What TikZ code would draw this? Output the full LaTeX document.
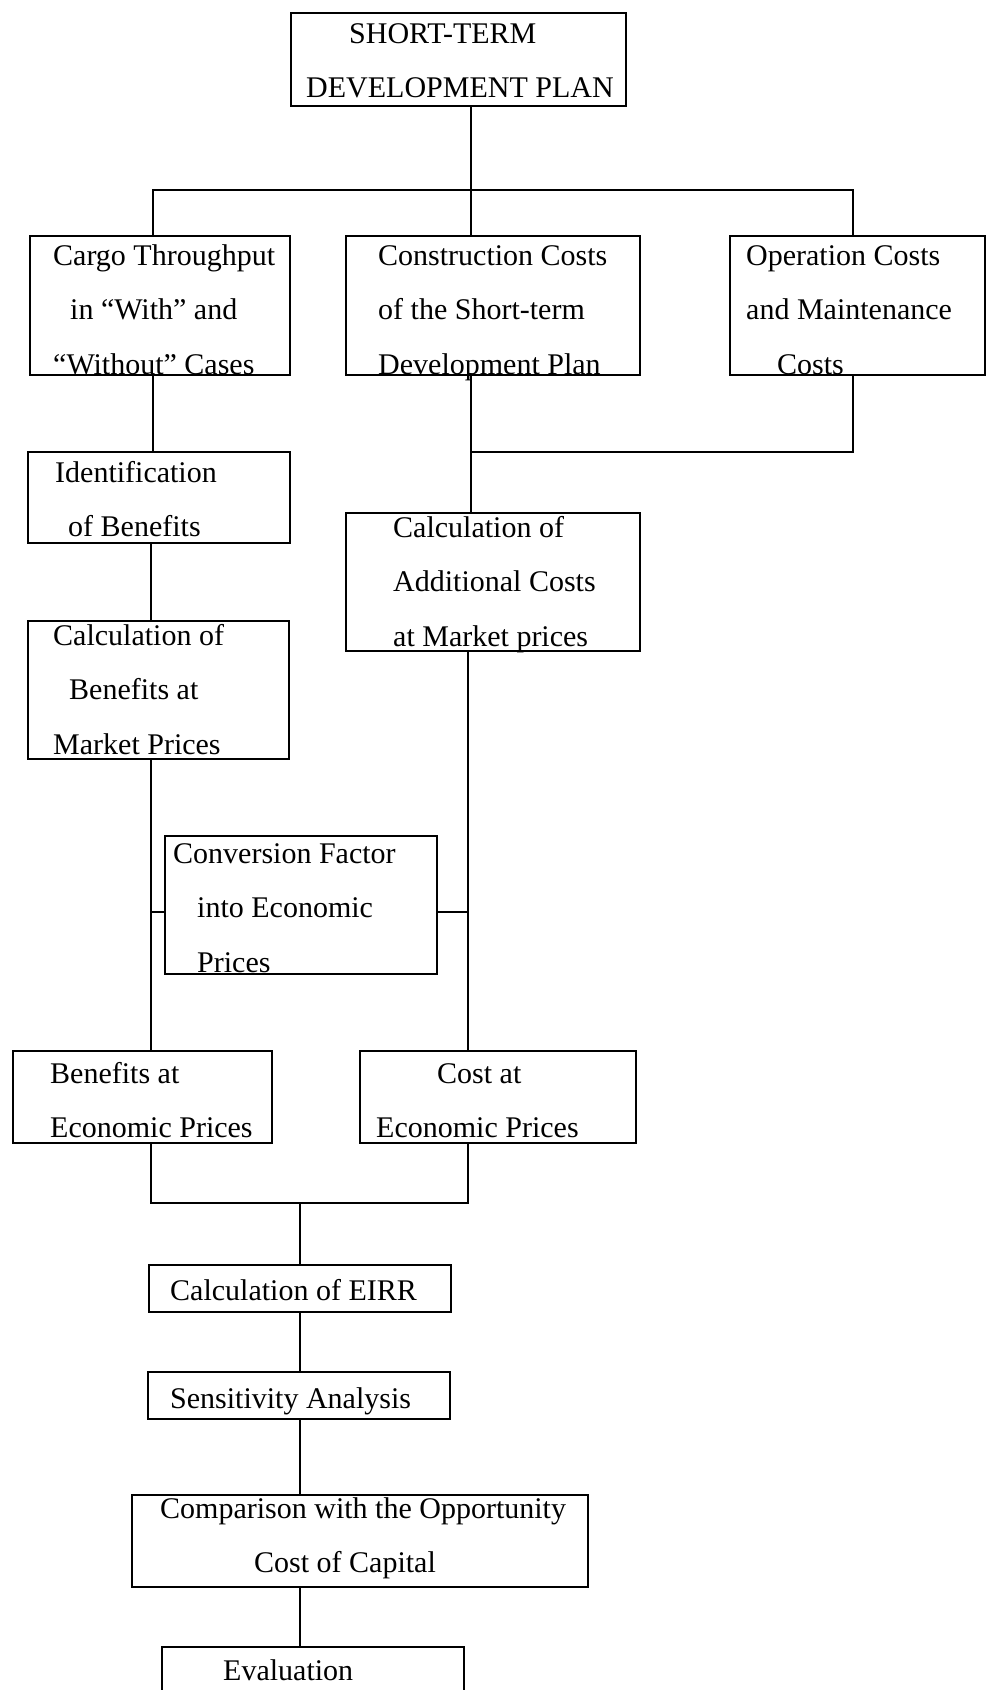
\documentclass[tikz,border=0pt]{standalone}
\usepackage{fontspec}
\setmainfont{Liberation Serif}
\usetikzlibrary{calc}
\newcommand{\fs}{\rule{0pt}{21pt}}
\tikzset{
  box/.style={draw, line width=1.5pt, inner sep=0pt, minimum width=#1},
  box/.default=100pt,
  txt/.style={font=\fontsize{30}{54.5}\selectfont, inner sep=0pt, anchor=north west, align=left},
  ln/.style={line width=1.5pt}
}
\begin{document}
\begin{tikzpicture}[x=1pt,y=-1pt]
\useasboundingbox (0,0) rectangle (987,1690);
\clip (0,0) rectangle (987,1690);
\fill[white] (0,0) rectangle (987,1690);
% boxes
\node[box=335pt, minimum height=93pt] (top) at (458.5,59.5) {};
\node[box=260pt, minimum height=139pt] (cargo) at (160,305.5) {};
\node[box=294pt, minimum height=139pt] (cons) at (493,305.5) {};
\node[box=255pt, minimum height=139pt] (oper) at (857.5,305.5) {};
\node[box=262pt, minimum height=91pt] (ident) at (159,497.5) {};
\node[box=294pt, minimum height=138pt] (addl) at (493,582) {};
\node[box=261pt, minimum height=138pt] (calcben) at (158.5,690) {};
\node[box=272pt, minimum height=138pt] (conv) at (301,905) {};
\node[box=259pt, minimum height=92pt] (benecon) at (142.5,1097) {};
\node[box=276pt, minimum height=92pt] (costecon) at (498,1097) {};
\node[box=302pt, minimum height=47pt] (eirr) at (300,1288.5) {};
\node[box=302pt, minimum height=47pt] (sens) at (299,1395.5) {};
\node[box=456pt, minimum height=92pt] (comp) at (360,1541) {};
\node[box=302pt, minimum height=90pt] (eval) at (313,1692) {};
% texts
\node[txt] (topT) at (306,22) {\fs\hspace*{43pt}SHORT-TERM\\DEVELOPMENT PLAN};
\node[txt] (cargoT) at (53,244) {\fs Cargo Throughput\\\hspace*{17pt}in “With” and\\“Without” Cases};
\node[txt] (consT) at (378,244) {\fs Construction Costs\\of the Short-term\\Development Plan};
\node[txt] (operT) at (746,244) {\fs Operation Costs\\and Maintenance\\\hspace*{31pt}Costs};
\node[txt] (identT) at (55,461) {\fs Identification\\\hspace*{13pt}of Benefits};
\node[txt] (addlT) at (393,516) {\fs Calculation of\\Additional Costs\\at Market prices};
\node[txt] (calcbenT) at (53,624) {\fs Calculation of\\\hspace*{16pt}Benefits at\\Market Prices};
\node[txt] (convT) at (173,842) {\fs Conversion Factor\\\hspace*{24pt}into Economic\\\hspace*{24pt}Prices};
\node[txt] (beneconT) at (50,1062) {\fs Benefits at\\Economic Prices};
\node[txt] (costeconT) at (376,1062) {\fs\hspace*{61pt}Cost at\\Economic Prices};
\node[txt] (eirrT) at (170,1279) {\fs Calculation of EIRR};
\node[txt] (sensT) at (170,1387) {\fs Sensitivity Analysis};
\node[txt] (compT) at (160,1497) {\fs Comparison with the Opportunity\\\hspace*{94pt}Cost of Capital};
\node[txt] (evalT) at (223,1659) {\fs Evaluation};
% connectors
\coordinate (j0) at (471,190);
\coordinate (bl) at (153,190);
\coordinate (br) at (853,190);
\coordinate (j1) at (471,452);
\coordinate (lx) at (151,912);
\coordinate (rx) at (468,912);
\coordinate (j2) at (300,1203);
\draw[ln] (top.south -| j0) -- (j0);
\draw[ln] (cargo.north -| bl) -- (bl) -- (br) -- (oper.north -| br);
\draw[ln] (j0) -- (cons.north -| j0);
\draw[ln] (cargo.south -| bl) -- (ident.north -| bl);
\draw[ln] (oper.south -| br) -- (br |- j1) -- (j1);
\draw[ln] (cons.south -| j1) -- (addl.north -| j1);
\draw[ln] (ident.south -| lx) -- (calcben.north -| lx);
\draw[ln] (calcben.south -| lx) -- (benecon.north -| lx);
\draw[ln] (addl.south -| rx) -- (costecon.north -| rx);
\draw[ln] (lx) -- (conv.west |- lx);
\draw[ln] (conv.east |- rx) -- (rx);
\draw[ln] (benecon.south -| lx) -- (lx |- j2) -- (rx |- j2) -- (costecon.south -| rx);
\draw[ln] (j2) -- (eirr.north -| j2);
\draw[ln] (eirr.south -| j2) -- (sens.north -| j2);
\draw[ln] (sens.south -| j2) -- (comp.north -| j2);
\draw[ln] (comp.south -| j2) -- (eval.north -| j2);
\end{tikzpicture}
\end{document}
